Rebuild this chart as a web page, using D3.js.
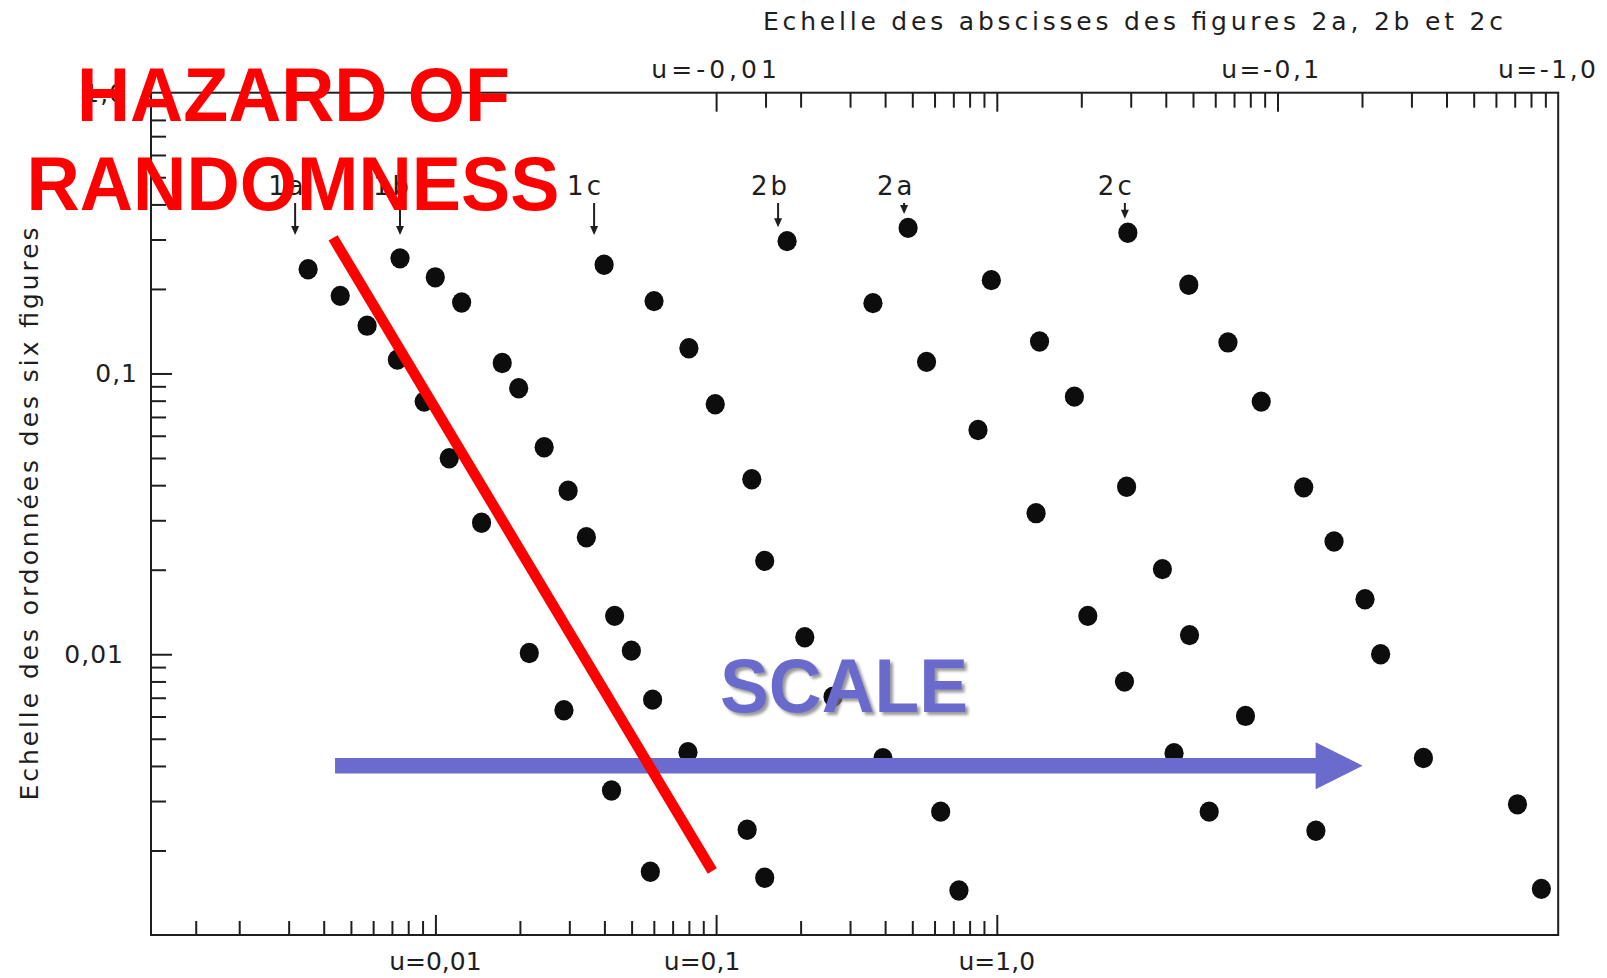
<!DOCTYPE html>
<html><head><meta charset="utf-8">
<script src="https://cdn.jsdelivr.net/npm/d3@7"></script>
<style>html,body{margin:0;padding:0;background:#fff;} svg{display:block}</style>
</head><body>
<svg id="chart" width="1607" height="978"></svg>
<script>
// ---------------- DATA (u = abscissa on the bottom log scale, f = frequency) ----------------
const seriesNames = ["1a", "1b", "1c", "2b", "2a", "2c"];
const series1a = [[0.00352,0.235],[0.00458,0.189],[0.00571,0.148],[0.00732,0.112],[0.00912,0.0794],[0.0112,0.0499],[0.0146,0.0294],[0.0216,0.0101],[0.0287,0.00632],[0.0424,0.00327],[0.0583,0.00168]];
const series1b = [[0.00748,0.257],[0.00999,0.220],[0.0124,0.179],[0.0173,0.109],[0.0198,0.0886],[0.0244,0.0546],[0.0297,0.0382],[0.0345,0.0261],[0.0435,0.0137],[0.0499,0.0103],[0.0594,0.00689],[0.0794,0.00448],[0.129,0.00237],[0.149,0.00160]];
const series1c = [[0.0399,0.244],[0.0601,0.181],[0.0800,0.123],[0.0993,0.0777],[0.134,0.0420],[0.149,0.0215],[0.207,0.0115],[0.261,0.00706],[0.393,0.00426],[0.631,0.00275],[0.733,0.00144]];
const series2b = [[0.179,0.296],[0.362,0.178],[0.562,0.110],[0.857,0.0629],[1.38,0.0318],[2.11,0.0137],[2.85,0.00799],[4.28,0.00444],[5.71,0.00275]];
const series2a = [[0.483,0.330],[0.956,0.215],[1.42,0.130],[1.89,0.0827],[2.90,0.0395],[3.89,0.0201],[4.86,0.0117],[7.69,0.00603],[13.7,0.00235]];
const series2c = [[2.93,0.317],[4.83,0.207],[6.66,0.129],[8.75,0.0794],[12.4,0.0393],[15.9,0.0252],[20.5,0.0157],[23.3,0.0100],[33.1,0.00427],[71.6,0.00292],[87.1,0.00146]];

const yTickValues = [1, 0.1, 0.01];
const yTickLabels = ["1,0", "0,1", "0,01"];
const bottomTickValues = [0.01, 0.1, 1];
const bottomTickLabels = ["u=0,01", "u=0,1", "u=1,0"];
const topTickLabels = ["u=-0,01", "u=-0,1", "u=-1,0"];
const topTickAtBottomScale = [0.1, 10, 100];

const yMinorTicks = [0.002,0.003,0.004,0.005,0.006,0.007,0.008,0.009,0.02,0.03,0.04,0.05,0.06,0.07,0.08,0.09,0.2,0.3,0.4,0.5,0.6,0.7,0.8,0.9];
const yMajorTicks = [0.1, 0.01];
const bottomMinorTicks = [0.0014,0.002,0.003,0.004,0.005,0.006,0.007,0.008,0.009,0.02,0.03,0.04,0.05,0.06,0.07,0.08,0.09,0.2,0.3,0.4,0.5,0.6,0.7,0.8,0.9];
const bottomMajorTicks = [0.01, 0.1, 1];
const topMinorTicks = [0.15,0.2,0.3,0.4,0.5,0.6,0.7,0.8,0.9,2,3,4,5,6,7,8,9,20,30,40,50,60,70,80,90];
const topMajorTicks = [0.1, 1, 10];

const topTitle = "Echelle des abscisses des figures 2a, 2b et 2c";
const leftTitle = "Echelle des ordonnées des six figures";

// overlay annotations, in data space
const redLine = [[0.00432, 0.304], [0.0969, 0.00169]];
const blueArrow = [[0.00439, 0.00401], [20.1, 0.00401]];

// ---------------- LAYOUT ----------------
const svg = d3.select("#chart");
const X0 = 151, X1 = 1558.2, Y0 = 92.7, Y1 = 935;
const x = d3.scaleLog().domain([0.00097, 100]).range([X0, X1]);
const y = d3.scaleLog().domain([0.001, 1]).range([Y1, Y0]);
const FONT = "'DejaVu Sans', sans-serif";
const INK = "#1e1e1e";
const yLabelRight = [126, 138, 124];
const bottomLabelNudge = [0, -14, 0];
const topLabelNudge = [0, -6, -10];

svg.append("rect").attr("width", 1607).attr("height", 978).attr("fill", "#fff");

function styleAxis(g) {
  g.select(".domain").remove();
  g.selectAll(".tick line").attr("stroke", INK).attr("stroke-width", 2);
  g.selectAll(".tick text").remove();
}
svg.append("g").attr("transform", `translate(${X0},0)`)
  .call(d3.axisRight(y).tickValues(yMinorTicks).tickSize(15).tickFormat("")).call(styleAxis);
svg.append("g").attr("transform", `translate(${X0},0)`)
  .call(d3.axisRight(y).tickValues(yMajorTicks).tickSize(21).tickFormat("")).call(styleAxis);
svg.append("g").attr("transform", `translate(0,${Y1})`)
  .call(d3.axisTop(x).tickValues(bottomMinorTicks).tickSize(14).tickFormat("")).call(styleAxis);
svg.append("g").attr("transform", `translate(0,${Y1})`)
  .call(d3.axisTop(x).tickValues(bottomMajorTicks).tickSize(20).tickFormat("")).call(styleAxis);
svg.append("g").attr("transform", `translate(0,${Y0})`)
  .call(d3.axisBottom(x).tickValues(topMinorTicks).tickSize(15).tickFormat("")).call(styleAxis);
svg.append("g").attr("transform", `translate(0,${Y0})`)
  .call(d3.axisBottom(x).tickValues(topMajorTicks).tickSize(19).tickFormat("")).call(styleAxis);

svg.append("rect").attr("x", X0).attr("y", Y0).attr("width", X1 - X0).attr("height", Y1 - Y0)
  .attr("fill", "none").attr("stroke", INK).attr("stroke-width", 2);

const txt = (sel) => sel.attr("font-family", FONT).attr("fill", INK);
svg.append("g").selectAll("text").data(yTickValues).join("text").call(txt)
  .attr("x", (d, i) => yLabelRight[i]).attr("y", d => y(d) + 9).attr("text-anchor", "end").attr("font-size", 25)
  .attr("letter-spacing", 1).text((d, i) => yTickLabels[i]);
svg.append("g").selectAll("text").data(bottomTickValues).join("text").call(txt)
  .attr("x", (d, i) => x(d) + bottomLabelNudge[i]).attr("y", 970).attr("text-anchor", "middle").attr("font-size", 25)
  .text((d, i) => bottomTickLabels[i]);
svg.append("g").selectAll("text").data(topTickAtBottomScale).join("text").call(txt)
  .attr("x", (d, i) => x(d) + topLabelNudge[i]).attr("y", 78).attr("text-anchor", "middle").attr("font-size", 25)
  .attr("letter-spacing", (d, i) => i === 0 ? 4 : 2.5)
  .text((d, i) => topTickLabels[i]);

svg.append("text").call(txt).attr("x", 763).attr("y", 30).attr("font-size", 25)
  .attr("textLength", 740).attr("lengthAdjust", "spacing").text(topTitle);
svg.append("text").call(txt).attr("transform", "translate(38,514) rotate(-90)")
  .attr("text-anchor", "middle").attr("font-size", 25)
  .attr("textLength", 573).attr("lengthAdjust", "spacing").text(leftTitle);

const allSeries = [series1a, series1b, series1c, series2b, series2a, series2c];
const arrowNudge = [-13, 0, -10, -9, -4, -3];
const gDots = svg.append("g");
allSeries.forEach((s) => {
  gDots.selectAll(null).data(s).join("ellipse")
    .attr("cx", d => x(d[0])).attr("cy", d => y(d[1]))
    .attr("rx", 9.6).attr("ry", 10.2).attr("fill", "#0d0d0d");
});

const gLab = svg.append("g");
allSeries.forEach((s, i) => {
  const ax = x(s[0][0]) + arrowNudge[i];
  const tip = Math.min(235, y(s[0][1]) - 14);
  gLab.append("line").attr("x1", ax).attr("x2", ax).attr("y1", 203).attr("y2", tip - 6)
    .attr("stroke", INK).attr("stroke-width", 2);
  gLab.append("path").attr("d", `M${ax - 4},${tip - 9} L${ax + 4},${tip - 9} L${ax},${tip} Z`).attr("fill", INK);
  gLab.append("text").call(txt).attr("x", ax - 27).attr("y", 195).attr("font-size", 26)
    .attr("letter-spacing", 3).text(seriesNames[i]);
});

// ---------------- OVERLAYS ----------------
const defs = svg.append("defs");
const f = defs.append("filter").attr("id", "shadow").attr("x", "-10%").attr("y", "-10%").attr("width", "130%").attr("height", "130%");
f.append("feDropShadow").attr("dx", 3).attr("dy", 3).attr("stdDeviation", 1.5)
  .attr("flood-color", "#777").attr("flood-opacity", 0.75);

const BLUE = "#6b6bcd";
const bx0 = x(blueArrow[0][0]), bx1 = x(blueArrow[1][0]), by = y(blueArrow[0][1]);
svg.append("line").attr("x1", bx0).attr("x2", bx1 - 46).attr("y1", by).attr("y2", by)
  .attr("stroke", BLUE).attr("stroke-width", 15.5);
svg.append("path").attr("d", `M${bx1 - 47},${by - 23.5} L${bx1},${by} L${bx1 - 47},${by + 23.5} Z`).attr("fill", BLUE);

svg.append("line")
  .attr("x1", x(redLine[0][0])).attr("y1", y(redLine[0][1]))
  .attr("x2", x(redLine[1][0])).attr("y2", y(redLine[1][1]))
  .attr("stroke", "#ff0000").attr("stroke-width", 10.5);

const BOLD = "'Liberation Sans', Arial, sans-serif";
svg.append("text").attr("x", 293.5).attr("y", 121).attr("text-anchor", "middle")
  .attr("font-family", BOLD).attr("font-weight", "bold").attr("font-size", 76).attr("fill", "#ff0000")
  .attr("textLength", 433).attr("lengthAdjust", "spacingAndGlyphs").text("HAZARD OF");
svg.append("text").attr("x", 293).attr("y", 209.5).attr("text-anchor", "middle")
  .attr("font-family", BOLD).attr("font-weight", "bold").attr("font-size", 76).attr("fill", "#ff0000")
  .attr("textLength", 533).attr("lengthAdjust", "spacingAndGlyphs").text("RANDOMNESS");

svg.append("text").attr("x", 720).attr("y", 712).attr("font-family", BOLD).attr("font-weight", "bold")
  .attr("font-size", 76).attr("fill", BLUE).attr("filter", "url(#shadow)")
  .attr("textLength", 248).attr("lengthAdjust", "spacingAndGlyphs").text("SCALE");
</script>
</body></html>
